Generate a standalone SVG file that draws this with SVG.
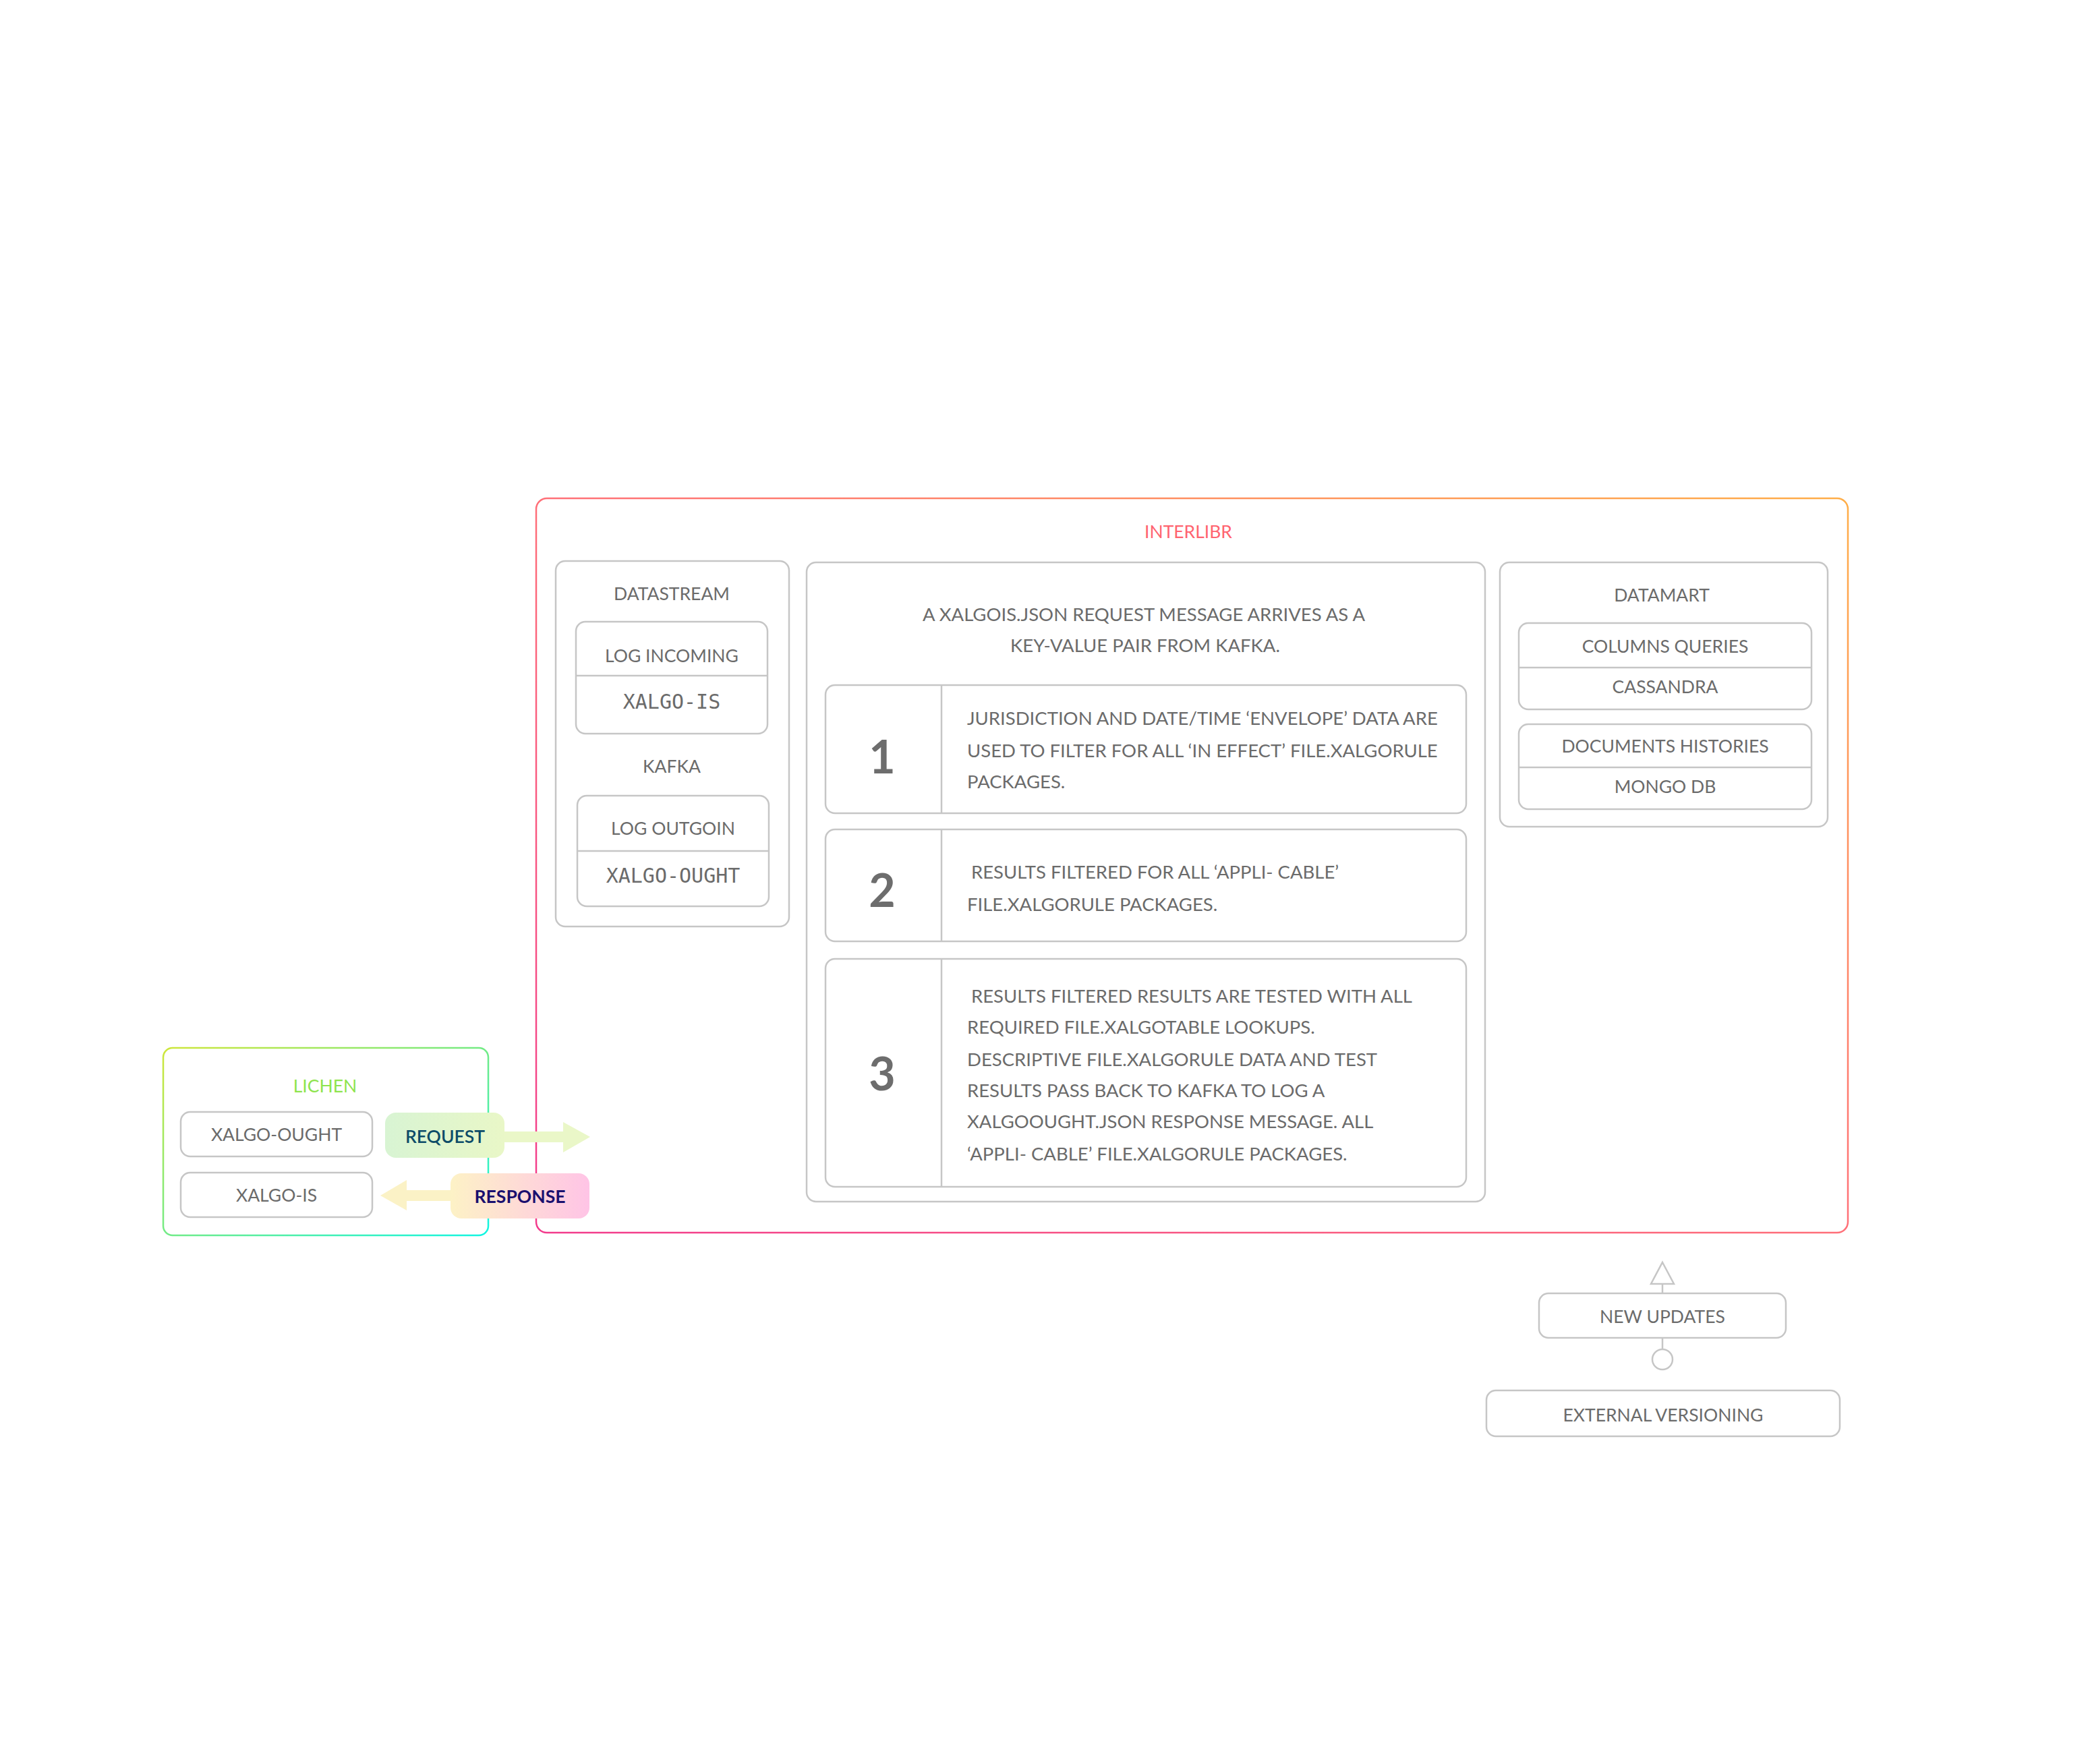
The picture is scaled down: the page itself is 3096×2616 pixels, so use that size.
<svg xmlns="http://www.w3.org/2000/svg" width="3096" height="2616" viewBox="0 0 3096 2616">
<defs>
<linearGradient id="gInter" x1="0" y1="1" x2="1" y2="0">
<stop offset="0" stop-color="#f23a8c"/>
<stop offset="0.5" stop-color="#ff6f78"/>
<stop offset="1" stop-color="#ffae48"/>
</linearGradient>
<linearGradient id="gLichen" x1="0" y1="0" x2="1" y2="1">
<stop offset="0" stop-color="#cfe63a"/>
<stop offset="0.5" stop-color="#72eb86"/>
<stop offset="1" stop-color="#10f5e2"/>
</linearGradient>
<linearGradient id="gReq" x1="0" y1="0" x2="1" y2="0">
<stop offset="0" stop-color="#d8f4d3"/>
<stop offset="1" stop-color="#e9f7c7"/>
</linearGradient>
<linearGradient id="gResp" x1="0" y1="0" x2="1" y2="0">
<stop offset="0" stop-color="#fdf2c6"/>
<stop offset="1" stop-color="#ffc4e6"/>
</linearGradient>
</defs>
<style>
.box{fill:#ffffff;stroke:#c6c6c6;stroke-width:2.5}
.ln{stroke:#c6c6c6;stroke-width:2.5;fill:none}
.t{font-family:Lato,"Open Sans","Noto Sans",sans-serif;font-size:26.5px;fill:#6b6b6b;dominant-baseline:central}
.p{font-size:27.5px}
.c{text-anchor:middle}
.m{font-family:"DejaVu Sans Mono","Liberation Mono",monospace;font-size:30px;fill:#6b6b6b;text-anchor:middle;dominant-baseline:central}
.num{font-family:Lato,"Open Sans",sans-serif;font-size:68px;font-weight:bold;fill:#6d6d6d;text-anchor:middle;dominant-baseline:central}
</style>
<rect width="3096" height="2616" fill="#ffffff"/>

<g id="interlibr">
<rect x="795" y="739" width="1945" height="1089" rx="16" fill="none" stroke="url(#gInter)" stroke-width="2.5"/>
<text class="t c" x="1762" y="788" style="fill:#ff6470">INTERLIBR</text>
</g>

<g id="datastream">
<rect class="box" x="824" y="832" width="346" height="542" rx="14"/>
<text class="t c" x="996" y="880">DATASTREAM</text>
<text class="t c" x="996" y="1136">KAFKA</text>
</g>
<g id="log-incoming">
<rect class="box" x="854" y="922" width="284" height="166" rx="14"/>
<line class="ln" x1="854" y1="1002" x2="1138" y2="1002"/>
<text class="t c" x="996" y="972">LOG INCOMING</text>
<text class="m" x="996" y="1040">XALGO-IS</text>
</g>
<g id="log-outgoin">
<rect class="box" x="856" y="1180" width="284" height="164" rx="14"/>
<line class="ln" x1="856" y1="1262" x2="1140" y2="1262"/>
<text class="t c" x="998" y="1228">LOG OUTGOIN</text>
<text class="m" x="998" y="1298">XALGO-OUGHT</text>
</g>

<g id="process">
<rect class="box" x="1196" y="834" width="1006" height="948" rx="14"/>
<text class="t p c" x="1696" y="910">A XALGOIS.JSON REQUEST MESSAGE ARRIVES AS A</text>
<text class="t p c" x="1698" y="956">KEY-VALUE PAIR FROM KAFKA.</text>
</g>
<g id="step1">
<rect class="box" x="1224" y="1016" width="950" height="190" rx="14"/>
<line class="ln" x1="1396" y1="1016" x2="1396" y2="1206"/>
<text class="num" x="1308" y="1120">1</text>
<text class="t p" x="1434" y="1064">JURISDICTION AND DATE/TIME ‘ENVELOPE’ DATA ARE</text>
<text class="t p" x="1434" y="1112">USED TO FILTER FOR ALL ‘IN EFFECT’ FILE.XALGORULE</text>
<text class="t p" x="1434" y="1158">PACKAGES.</text>
</g>
<g id="step2">
<rect class="box" x="1224" y="1230" width="950" height="166" rx="14"/>
<line class="ln" x1="1396" y1="1230" x2="1396" y2="1396"/>
<text class="num" x="1308" y="1318">2</text>
<text class="t p" x="1440" y="1292">RESULTS FILTERED FOR ALL ‘APPLI- CABLE’</text>
<text class="t p" x="1434" y="1340">FILE.XALGORULE PACKAGES.</text>
</g>
<g id="step3">
<rect class="box" x="1224" y="1422" width="950" height="338" rx="14"/>
<line class="ln" x1="1396" y1="1422" x2="1396" y2="1760"/>
<text class="num" x="1308" y="1590">3</text>
<text class="t p" x="1440" y="1476">RESULTS FILTERED RESULTS ARE TESTED WITH ALL</text>
<text class="t p" x="1434" y="1522">REQUIRED FILE.XALGOTABLE LOOKUPS.</text>
<text class="t p" x="1434" y="1570">DESCRIPTIVE FILE.XALGORULE DATA AND TEST</text>
<text class="t p" x="1434" y="1616">RESULTS PASS BACK TO KAFKA TO LOG A</text>
<text class="t p" x="1434" y="1662">XALGOOUGHT.JSON RESPONSE MESSAGE. ALL</text>
<text class="t p" x="1434" y="1710">‘APPLI- CABLE’ FILE.XALGORULE PACKAGES.</text>
</g>

<g id="datamart">
<rect class="box" x="2224" y="834" width="486" height="392" rx="14"/>
<text class="t c" x="2464" y="882">DATAMART</text>
</g>
<g id="columns-queries">
<rect class="box" x="2252" y="924" width="434" height="128" rx="14"/>
<line class="ln" x1="2252" y1="990" x2="2686" y2="990"/>
<text class="t c" x="2469" y="958">COLUMNS QUERIES</text>
<text class="t c" x="2469" y="1018">CASSANDRA</text>
</g>
<g id="documents-histories">
<rect class="box" x="2252" y="1074" width="434" height="126" rx="14"/>
<line class="ln" x1="2252" y1="1138" x2="2686" y2="1138"/>
<text class="t c" x="2469" y="1106">DOCUMENTS HISTORIES</text>
<text class="t c" x="2469" y="1166">MONGO DB</text>
</g>

<g id="lichen">
<rect x="242" y="1554" width="482" height="278" rx="14" fill="none" stroke="url(#gLichen)" stroke-width="2.5"/>
<text class="t c" x="482" y="1610" style="fill:#8ee44e">LICHEN</text>
</g>
<g id="lichen-xalgo-ought">
<rect class="box" x="268" y="1649" width="284" height="66" rx="14"/>
<text class="t c" x="410" y="1682">XALGO-OUGHT</text>
</g>
<g id="lichen-xalgo-is">
<rect class="box" x="268" y="1739" width="284" height="66" rx="14"/>
<text class="t c" x="410" y="1772">XALGO-IS</text>
</g>

<g id="connectors">
<polygon points="748,1678 835,1678 835,1664 875,1686 835,1709 835,1694 748,1694" fill="#eaf7c8"/>
<polygon points="668,1765 603,1765 603,1750 564,1773 603,1795 603,1781 668,1781" fill="#fbf2c6"/>
<line class="ln" x1="2465" y1="1904" x2="2465" y2="1918"/>
<polygon points="2465,1872 2482,1904 2448,1904" fill="#ffffff" stroke="#c6c6c6" stroke-width="2.5"/>
<line class="ln" x1="2465" y1="1984" x2="2465" y2="2000"/>
<circle cx="2465" cy="2016" r="15" fill="#ffffff" stroke="#c6c6c6" stroke-width="2.5"/>
</g>

<g id="request">
<rect x="571" y="1650" width="177" height="67" rx="16" fill="url(#gReq)"/>
<text class="t c" x="660" y="1685" style="fill:#0d4c68;font-weight:600">REQUEST</text>
</g>
<g id="response">
<rect x="668" y="1740" width="206" height="67" rx="16" fill="url(#gResp)"/>
<text class="t c" x="771" y="1774" style="fill:#1a0f6e;font-weight:bold">RESPONSE</text>
</g>

<g id="new-updates">
<rect class="box" x="2282" y="1918" width="366" height="66" rx="14"/>
<text class="t c" x="2465" y="1952">NEW UPDATES</text>
</g>
<g id="external-versioning">
<rect class="box" x="2204" y="2062" width="524" height="68" rx="14"/>
<text class="t c" x="2466" y="2098">EXTERNAL VERSIONING</text>
</g>
</svg>
